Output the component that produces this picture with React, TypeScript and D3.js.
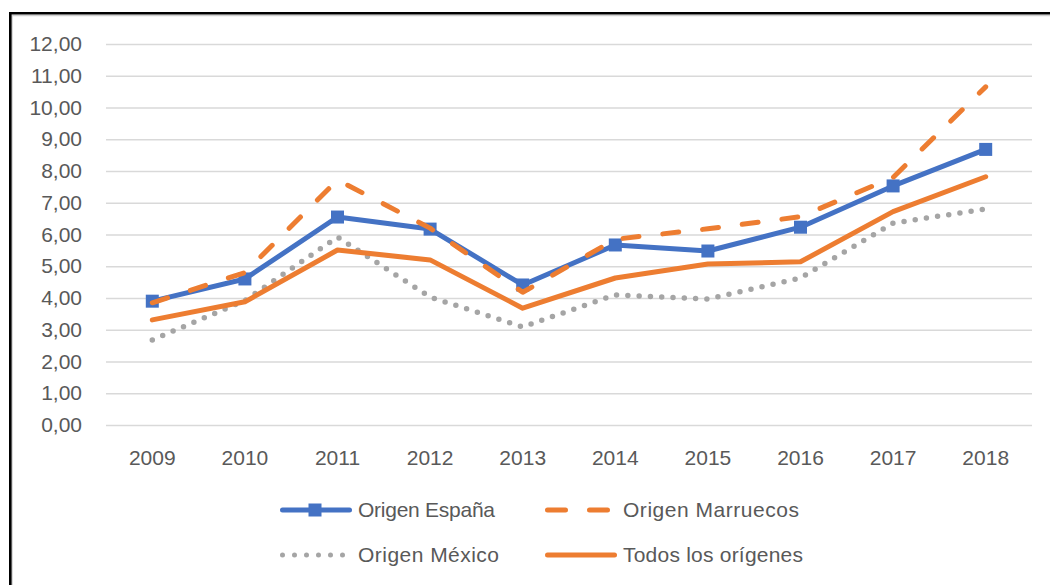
import { axisBottom, axisLeft, line, scaleBand, scaleLinear, select } from 'd3';
import React, { useEffect, useRef } from 'react';

const WIDTH = 1050;
const HEIGHT = 585;
const MARGIN_TOP = 44;
const MARGIN_LEFT = 106;
const PLOT_RIGHT = 1032;
const PLOT_BOTTOM = 425;
const FONT = '"Liberation Sans", Arial, sans-serif';
const TEXT_COLOR = '#595959';

const years = ['2009', '2010', '2011', '2012', '2013', '2014', '2015', '2016', '2017', '2018'];
const yTicks = [0, 1, 2, 3, 4, 5, 6, 7, 8, 9, 10, 11, 12];

const espana = [3.9, 4.6, 6.55, 6.17, 4.41, 5.67, 5.48, 6.23, 7.53, 8.68];
const marruecos = [3.85, 4.8, 7.72, 6.2, 4.18, 5.85, 6.18, 6.56, 7.8, 10.65];
const mexico = [2.68, 3.92, 5.92, 4.03, 3.09, 4.1, 3.97, 4.63, 6.36, 6.8];
const todos = [3.31, 3.88, 5.51, 5.2, 3.68, 4.63, 5.07, 5.14, 6.72, 7.82];

const seriesNames = ['Origen España', 'Origen Marruecos', 'Origen México', 'Todos los orígenes'];

const fmt = (v: number) => v.toFixed(2).replace('.', ',');

const App = (): JSX.Element => {
  const ref = useRef<SVGSVGElement>(null);

  useEffect(() => {
    if (ref.current === null) return;
    ref.current.replaceChildren();

    const x = scaleBand().domain(years).range([MARGIN_LEFT, PLOT_RIGHT]);
    const cx = (d: string) => (x(d) ?? 0) + x.bandwidth() / 2;
    const y = scaleLinear().domain([0, 12]).range([PLOT_BOTTOM, MARGIN_TOP]);

    const svg = select(ref.current)
      .attr('width', WIDTH)
      .attr('height', HEIGHT)
      .attr('viewBox', [0, 0, WIDTH, HEIGHT])
      .style('font-family', FONT);

    svg.append('rect').attr('width', WIDTH).attr('height', HEIGHT).attr('fill', '#fff');

    // Chart frame (only top and left edges visible)
    svg
      .append('path')
      .attr('d', `M12,${HEIGHT + 5}V15.5H${WIDTH + 5}`)
      .attr('fill', 'none')
      .attr('stroke', '#d0d0d0')
      .attr('stroke-width', 1.5);
    svg
      .append('path')
      .attr('d', `M10.3,${HEIGHT + 5}V13.3H${WIDTH + 5}`)
      .attr('fill', 'none')
      .attr('stroke', '#000')
      .attr('stroke-width', 2.6);

    // Y axis with gridlines
    svg
      .append('g')
      .attr('transform', `translate(${MARGIN_LEFT}, 0)`)
      .call(
        axisLeft(y)
          .tickValues(yTicks)
          .tickFormat((d) => fmt(+d))
          .tickSize(-(PLOT_RIGHT - MARGIN_LEFT))
          .tickPadding(24),
      )
      .call((g) => g.select('.domain').remove())
      .call((g) => g.selectAll('.tick line').attr('stroke', '#d9d9d9').attr('stroke-width', 1.4))
      .call((g) =>
        g
          .selectAll('.tick text')
          .attr('fill', TEXT_COLOR)
          .attr('font-size', 21)
          .attr('font-family', FONT),
      );

    // X axis labels
    svg
      .append('g')
      .attr('transform', `translate(0, ${PLOT_BOTTOM})`)
      .call(axisBottom(x).tickSize(0).tickPadding(25))
      .call((g) => g.select('.domain').remove())
      .call((g) =>
        g
          .selectAll('.tick text')
          .attr('fill', TEXT_COLOR)
          .attr('font-size', 21)
          .attr('font-family', FONT),
      );

    const lineGen = line<number>()
      .x((_, i) => cx(years[i]))
      .y((d) => y(d));

    const styles = [
      { data: espana, color: '#4472C4', dash: null },
      { data: marruecos, color: '#ED7D31', dash: '16,24' },
      { data: mexico, color: '#A5A5A5', dash: '0,11.3' },
      { data: todos, color: '#ED7D31', dash: null },
    ];

    styles.forEach((s, i) => {
      svg
        .append('path')
        .datum(s.data)
        .attr('d', lineGen)
        .attr('fill', 'none')
        .attr('stroke', s.color)
        .attr('stroke-width', i === 2 ? 5.5 : 5)
        .attr('stroke-linejoin', 'round')
        .attr('stroke-linecap', 'round')
        .attr('stroke-dasharray', s.dash);
      if (i === 0) {
        svg
          .append('g')
          .selectAll()
          .data(s.data)
          .join('rect')
          .attr('x', (_, j) => cx(years[j]) - 6.5)
          .attr('y', (d) => y(d) - 6.5)
          .attr('width', 13)
          .attr('height', 13)
          .attr('fill', s.color);
      }
    });

    // Legend
    const legendPos = [
      { x: 280, y: 510 },
      { x: 545, y: 510 },
      { x: 280, y: 555 },
      { x: 545, y: 555 },
    ];
    const lineLen = [72, 65, 66, 72];
    const textX = [358, 623, 358, 623];
    const textLen = [137, 176, 141, 180];

    styles.forEach((s, i) => {
      const p = legendPos[i];
      const g = svg.append('g');
      g.append('path')
        .attr('d', `M${p.x + 2.5},${p.y}H${p.x + lineLen[i] - 2.5}`)
        .attr('stroke', s.color)
        .attr('stroke-width', 5)
        .attr('stroke-linecap', 'round')
        .attr('stroke-dasharray', i === 1 ? '18,24' : i === 2 ? '0,12' : null);
      if (i === 0) {
        g.append('rect')
          .attr('x', p.x + 35 - 6.5)
          .attr('y', p.y - 6.5)
          .attr('width', 13)
          .attr('height', 13)
          .attr('fill', s.color);
      }
      g.append('text')
        .attr('x', textX[i])
        .attr('y', p.y)
        .attr('dy', '0.35em')
        .attr('fill', TEXT_COLOR)
        .attr('font-size', 21)
        .attr('textLength', textLen[i])
        .attr('lengthAdjust', 'spacing')
        .text(seriesNames[i]);
    });
  }, [ref]);

  return <svg ref={ref} style={{ position: 'absolute', left: 0, top: 0 }} />;
};

export default App;
